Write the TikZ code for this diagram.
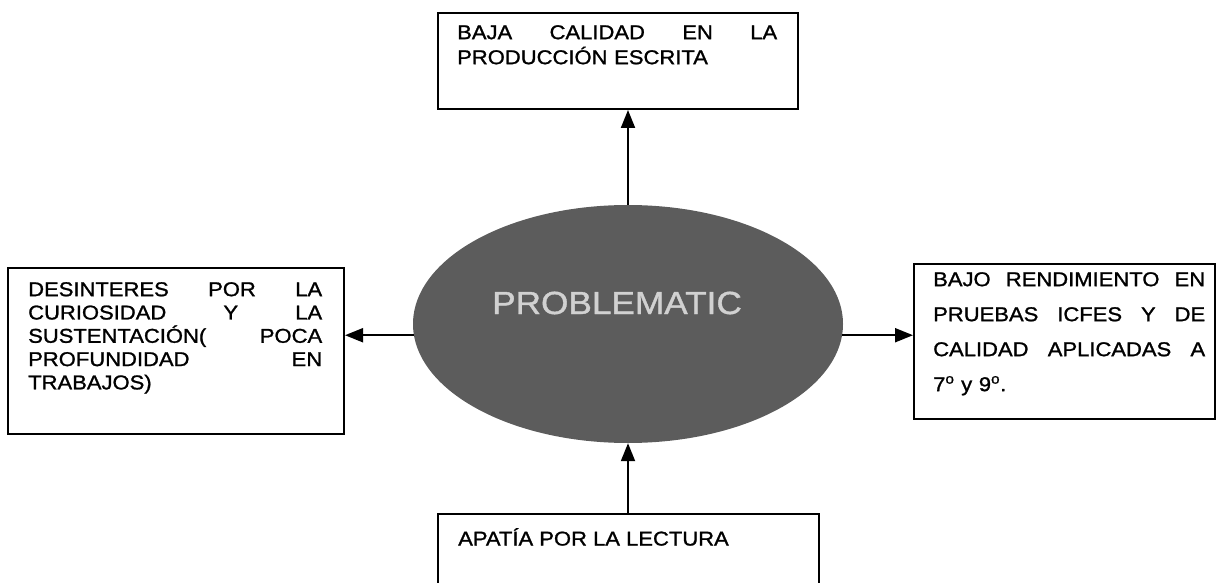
\documentclass[tikz,border=0pt]{standalone}
\usepackage{fontspec}
\setmainfont[FakeStretch=1.1,FakeBold=1.2]{Liberation Sans}
\usetikzlibrary{arrows.meta,shapes.geometric}

\newlength{\du}
\setlength{\du}{1pt}

\tikzset{
  caja/.style={draw, line width=2\du, inner sep=0pt, anchor=north west},
  texto/.style={inner sep=0pt, anchor=north west, align=left},
  flecha/.style={line width=2\du, -{Triangle[length=18pt,width=14pt]}}
}

\begin{document}
\begin{tikzpicture}
\pgftransformxscale{1.000000}
\pgftransformyscale{-1.000000}
\useasboundingbox (0\du,0\du) rectangle (1218\du,583\du);

\node[ellipse, fill=black!64, minimum width=430\du, minimum height=238\du, inner sep=0pt] (prob) at (628\du,324\du) {};
\node[text=black!18, inner sep=0pt, font=\fontsize{32}{32}\selectfont] (probtxt) at (617\du,303\du) {PROBLEMATIC};

\node[caja, minimum width=360\du, minimum height=96\du] (topbox) at (437\du,12\du) {};
\node[texto, text width=320\du, font=\fontsize{20}{25}\selectfont] (toptxt) at (457\du,25\du)
  {BAJA\hfill CALIDAD\hfill EN\hfill LA\\PRODUCCIÓN ESCRITA};

\node[caja, minimum width=336\du, minimum height=166\du] (leftbox) at (7\du,267\du) {};
\node[texto, text width=294\du, font=\fontsize{20}{23.3}\selectfont] (lefttxt) at (28\du,282\du)
  {DESINTERES\hfill POR\hfill LA\\CURIOSIDAD\hfill Y\hfill LA\\SUSTENTACIÓN(\hfill POCA\\PROFUNDIDAD\hfill EN\\TRABAJOS)};

\node[caja, minimum width=301\du, minimum height=155\du] (rightbox) at (913\du,263\du) {};
\node[texto, text width=272\du, font=\fontsize{20}{35}\selectfont] (righttxt) at (933\du,272\du)
  {BAJO\hfill RENDIMIENTO\hfill EN\\PRUEBAS\hfill ICFES\hfill Y\hfill DE\\CALIDAD\hfill APLICADAS\hfill A\\7\textsuperscript{o} y 9\textsuperscript{o}.};

\node[caja, minimum width=381\du, minimum height=100\du] (bottombox) at (437\du,513\du) {};
\node[texto, font=\fontsize{20}{24}\selectfont] (bottomtxt) at (458\du,528\du) {APATÍA POR LA LECTURA};

%\node at (500\du,343\du){A};
\draw[flecha] (prob.north) -- (prob.north |- topbox.south);
\draw[flecha] (bottombox.north -| prob.south) -- (prob.south);
\draw[flecha] (prob.183) -- (prob.183 -| leftbox.east);
\draw[flecha] (prob.357) -- (prob.357 -| rightbox.west);
\end{tikzpicture}
\end{document}
